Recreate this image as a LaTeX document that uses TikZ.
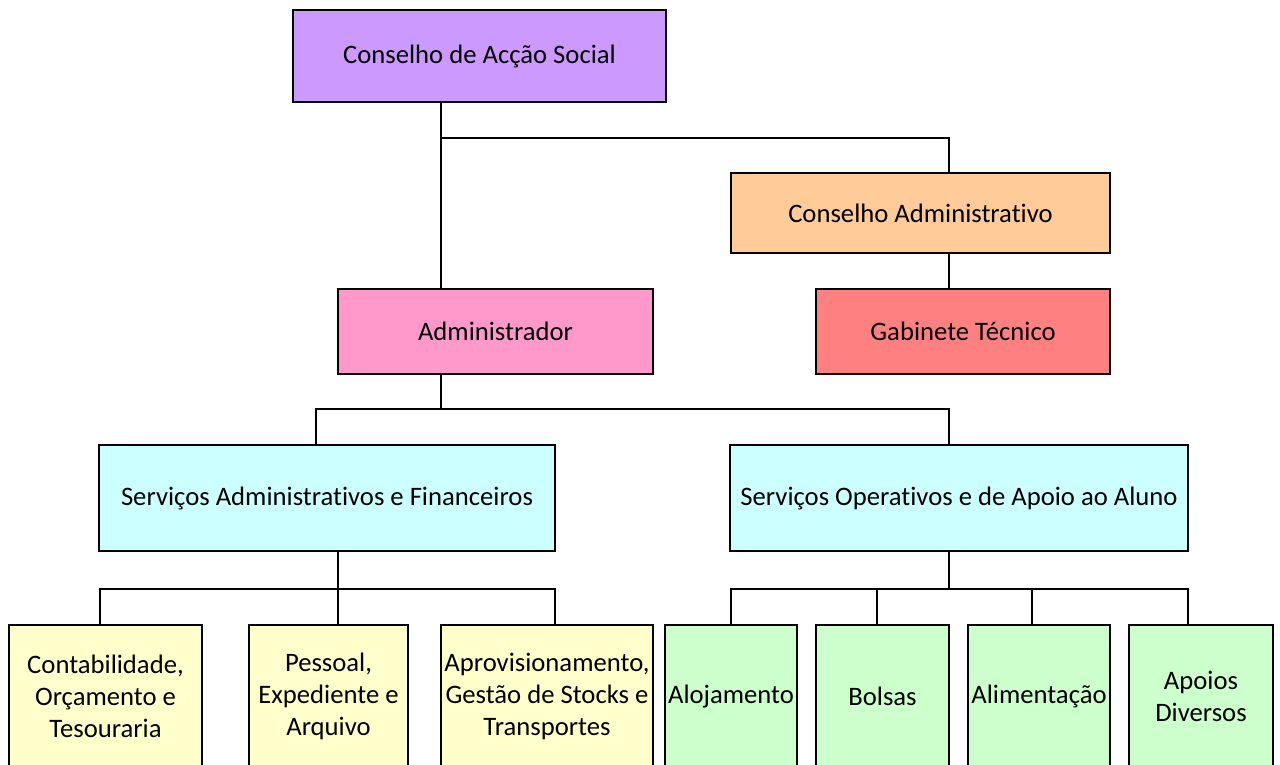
\documentclass[tikz,border=0pt]{standalone}
\usepackage{fontspec}
\setmainfont{Carlito}[Ligatures=NoCommon]
\usepackage{tikz}
\usetikzlibrary{positioning}
\definecolor{cas}{HTML}{CC99FF}
\definecolor{cadm}{HTML}{FFCC99}
\definecolor{gabinete}{HTML}{FF8080}
\definecolor{admin}{HTML}{FF99CC}
\definecolor{servico}{HTML}{CCFFFF}
\definecolor{financeiro}{HTML}{FFFFCC}
\definecolor{apoio}{HTML}{CCFFCC}

\begin{document}
\begin{tikzpicture}[
  x=0.75pt, y=-0.75pt,
  every node/.style={font=\fontsize{20}{24}\selectfont},
  unit/.style={draw, line width=1.5pt, align=center, inner sep=0pt},
  size/.style 2 args={minimum width=#1*0.75pt, minimum height=#2*0.75pt},
  link/.style={line width=1.5pt}
]
\useasboundingbox (0,0) rectangle (1280,764);
\clip (0,0) rectangle (1280,764);

\node[unit, fill=cas, size={373}{92}] (CAS) at (479.5,56) {Conselho de Acção Social};
\node[unit, fill=cadm, size={379}{80}] (CA) at (920.5,213) {Conselho Administrativo};
\node[unit, fill=gabinete, size={294}{85}] (GT) at (963,331.5) {Gabinete Técnico};
\node[unit, fill=admin, size={315}{85}] (ADM) at (495.5,331.5) {Administrador};
\node[unit, fill=servico, size={456}{106}] (SAF) at (327,498) {Serviços Administrativos e Financeiros};
\node[unit, fill=servico, size={458}{106}] (SOA) at (959,498) {Serviços Operativos e de Apoio ao Aluno};
\node[unit, fill=financeiro, size={193}{143}] (SAF-1) at (105.5,696.5) {Contabilidade,\\Orçamento e\\Tesouraria};
\node[unit, fill=financeiro, size={159}{143}] (SAF-2) at (328.5,696.5) {Pessoal,\\Expediente e\\Arquivo};
\node[unit, fill=financeiro, size={212}{143}] (SAF-3) at (547,696.5) {Aprovisionamento,\\Gestão de Stocks e\\Transportes};
\node[unit, fill=apoio, size={132}{143}] (SOA-1) at (731,696.5) {Alojamento};
\node[unit, fill=apoio, size={133}{143}] (SOA-2) at (882.5,696.5) {Bolsas};
\node[unit, fill=apoio, size={142}{143}] (SOA-3) at (1039,696.5) {Alimentação};
\node[unit, fill=apoio, size={144}{143}] (SOA-4) at (1201,696.5) {Apoios\\Diversos};

\coordinate (x-adm) at (441,0);
\coordinate (x-ca) at (949,0);
\coordinate (x-saf) at (316,0);
\coordinate (bus-adm) at (441,409);
\coordinate (bus-saf) at (338,589);
\coordinate (bus-soa) at (949,589);
\coordinate (x-saf1) at (100,0);
\coordinate (x-saf3) at (555,0);
\coordinate (x-soa1) at (731,0);
\coordinate (x-soa2) at (877,0);
\coordinate (x-soa3) at (1032,0);
\coordinate (x-soa4) at (1188,0);

\draw[link] (CAS.south -| x-adm) -- (ADM.north -| x-adm);
\draw[link] (CAS.south -| x-adm) ++(0,35) -| (CA.north -| x-ca);
\draw[link] (CA.south -| x-ca) -- (GT.north -| x-ca);

\draw[link] (ADM.south -| bus-adm) -- (bus-adm);
\draw[link] (SAF.north -| x-saf) |- (bus-adm) -| (SOA.north -| x-ca);

\draw[link] (SAF.south -| bus-saf) -- (SAF-2.north -| bus-saf);
\draw[link] (SAF-1.north -| x-saf1) |- (bus-saf) -| (SAF-3.north -| x-saf3);

\draw[link] (SOA.south -| bus-soa) -- (bus-soa);
\draw[link] (SOA-1.north -| x-soa1) |- (bus-soa) -| (SOA-4.north -| x-soa4);
\draw[link] (bus-soa -| x-soa2) -- (SOA-2.north -| x-soa2);
\draw[link] (bus-soa -| x-soa3) -- (SOA-3.north -| x-soa3);
\end{tikzpicture}
\end{document}
